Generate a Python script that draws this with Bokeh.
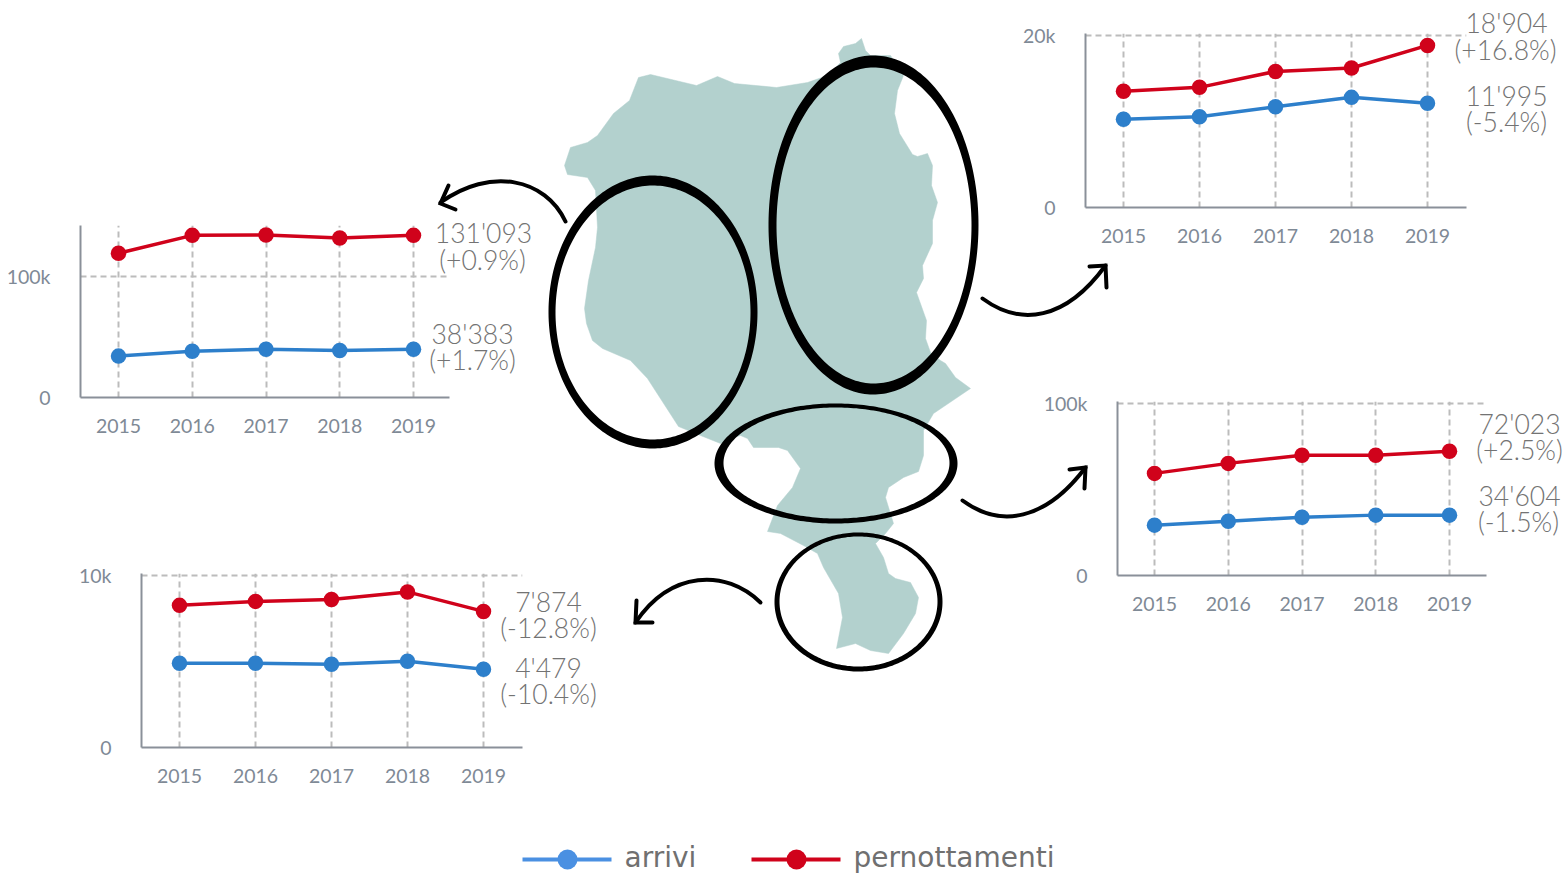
import numpy as np
from bokeh.plotting import figure
from bokeh.models import Range1d, FixedTicker
from bokeh.core.properties import value
from bokeh.embed import file_html
from bokeh.resources import INLINE

YEARS = [2015, 2016, 2017, 2018, 2019]

NW_ARRIVI = [34200, 38300, 39900, 38800, 39900]
NW_PERNOTT = [119200, 134000, 134300, 131800, 134000]
NE_ARRIVI = [10230, 10520, 11680, 12770, 12080]
NE_PERNOTT = [13470, 13930, 15780, 16180, 18790]
E_ARRIVI = [29200, 31500, 33800, 35000, 35000]
E_PERNOTT = [59200, 65000, 69700, 69700, 72000]
S_ARRIVI = [4880, 4880, 4830, 5000, 4540]
S_PERNOTT = [8240, 8470, 8580, 9020, 7890]

VALUE_LABELS = ["131'093", "(+0.9%)", "38'383", "(+1.7%)",
                "18'904", "(+16.8%)", "11'995", "(-5.4%)",
                "72'023", "(+2.5%)", "34'604", "(-1.5%)",
                "7'874", "(-12.8%)", "4'479", "(-10.4%)"]
VALUE_LABEL_X = [483, 482, 472, 472, 1506, 1505, 1506, 1506,
                 1519, 1519, 1519, 1518, 548, 548, 548, 548]
VALUE_LABEL_Y = [232, 259, 333, 359, 22, 49, 95, 121,
                 423, 449, 495, 521, 601, 627, 667, 693]

LEGEND_LABELS = ["arrivi", "pernottamenti"]

MAP_X = [638, 650, 696, 717, 734, 776, 807, 827, 840, 838, 843, 855, 861, 865, 870, 890, 903, 897, 894, 899,
         912, 917, 927, 932, 931, 937, 932, 932, 922, 923, 916, 926, 925, 930, 940, 945, 955, 970, 933, 923,
         923, 918, 903, 888, 885, 893, 885, 875, 883, 888, 895, 910, 918, 915, 903, 888, 870, 855, 836, 842,
         838, 823, 817, 803, 780, 767, 777, 792, 800, 787, 778, 753, 747, 740, 733, 720, 700, 678, 647, 630,
         602, 592, 586, 584, 588, 595, 597, 595, 587, 567, 564, 570, 587, 597, 613, 629]
MAP_Y = [77, 74, 85, 76, 83, 87, 82, 75, 62, 53, 46, 43, 38, 50, 55, 55, 75, 90, 113, 133,
         154, 156, 153, 165, 185, 202, 220, 243, 265, 278, 292, 320, 338, 352, 360, 363, 377, 388, 413, 430,
         455, 471, 477, 487, 497, 523, 533, 543, 557, 573, 578, 582, 597, 613, 633, 653, 650, 643, 648, 617,
         593, 567, 553, 545, 533, 531, 505, 487, 468, 450, 447, 447, 438, 435, 437, 443, 435, 426, 378, 360,
         348, 340, 323, 308, 280, 247, 227, 190, 177, 174, 165, 147, 142, 135, 113, 100]

RING_OUTER = [(548, 757, 175, 448), (768, 978, 55, 394), (714, 957, 403, 523), (774, 942, 532, 671)]
RING_INNER = [(555, 750, 185, 439), (776, 971, 67, 383), (723, 949, 407, 518), (779, 937, 536, 666)]

ARROW_CURVES = [(565, 221, 545, 178, 490, 166, 440, 202),
                (982, 298, 1020, 326, 1065, 320, 1105, 265),
                (962, 500, 1000, 528, 1045, 520, 1085, 467),
                (760, 602, 725, 568, 670, 570, 635, 622)]
ARROW_HEADS_X = [[448, 440, 455], [1089, 1105, 1106], [1069, 1085, 1084], [636, 635, 652]]
ARROW_HEADS_Y = [[185, 203, 209], [266, 265, 287], [469, 467, 488], [600, 622, 622]]

RED = "#d0021b"
BLUE = "#2d7fcb"
LEG_BLUE = "#4a90e2"
TICK_COLOR = "#7f8a96"
AXIS_COLOR = "#8a9099"
GRID_COLOR = "#bcbcbc"


def place(fig, left, top):
    fig.styles = {"position": "absolute", "left": f"{left}px", "top": f"{top}px"}


def ring_coords(box):
    x0, x1, y0, y1 = box
    t = np.linspace(0, 2 * np.pi, 240)
    cx, cy, rx, ry = (x0 + x1) / 2, (y0 + y1) / 2, (x1 - x0) / 2, (y1 - y0) / 2
    return list(cx + rx * np.cos(t)), list(cy + ry * np.sin(t))


bg = figure(width=1563, height=873, output_backend="svg", toolbar_location=None,
            x_range=Range1d(0, 1563), y_range=Range1d(873, 0),
            min_border=0, outline_line_color=None, border_fill_color=None,
            background_fill_color=None)
bg.axis.visible = False
bg.grid.visible = False
place(bg, 0, 0)

bg.patch(MAP_X, MAP_Y, fill_color="#b3d1ce", line_color="#b3d1ce", line_width=0.5)

xs, ys = [], []
for outer, inner in zip(RING_OUTER, RING_INNER):
    ox, oy = ring_coords(outer)
    ix, iy = ring_coords(inner)
    xs.append([[ox, ix]])
    ys.append([[oy, iy]])
bg.multi_polygons(xs, ys, fill_color="black", line_color=None)

for c in ARROW_CURVES:
    bg.bezier(x0=[c[0]], y0=[c[1]], cx0=[c[2]], cy0=[c[3]], cx1=[c[4]], cy1=[c[5]], x1=[c[6]], y1=[c[7]],
              line_color="black", line_width=4, line_cap="round")
bg.multi_line(ARROW_HEADS_X, ARROW_HEADS_Y, line_color="black", line_width=4,
              line_cap="round", line_join="miter")

bg.text(VALUE_LABEL_X, VALUE_LABEL_Y, text=VALUE_LABELS, text_font=value("Lato Light"),
        text_font_size="26.5px", text_color="#737373", text_align="center", text_baseline="middle")

# legend
bg.line([522, 611], [859, 859], line_color=LEG_BLUE, line_width=4)
bg.scatter([567], [859], size=20, fill_color=LEG_BLUE, line_color=None)
bg.line([751, 840], [859, 859], line_color=RED, line_width=4)
bg.scatter([796], [859], size=20, fill_color=RED, line_color=None)
bg.text([624, 853], [856.5, 856.5], text=LEGEND_LABELS, text_font=value("DejaVu Sans"),
        text_font_size="28px", text_color="#707070", text_align="left", text_baseline="middle")


def chart(fx0, fx1, fy0, base, val_y, val, x15, x19, y_ticks, y_over, arr, per):
    ml, mr, mt, mb = 100, 12, 12, 50
    per_year = (x19 - x15) / 4
    xr = Range1d(2015 - (x15 - fx0) / per_year, 2019 + (fx1 - x19) / per_year)
    yr = Range1d(0, val * (base - fy0) / (base - val_y))
    f = figure(width=ml + fx1 - fx0 + mr, height=mt + base - fy0 + mb, x_range=xr, y_range=yr,
               output_backend="svg", toolbar_location=None, min_border_left=ml, min_border_right=mr,
               min_border_top=mt, min_border_bottom=mb, outline_line_color=None,
               border_fill_color=None, background_fill_color=None)
    place(f, fx0 - ml, fy0 - mt)
    f.xaxis.ticker = FixedTicker(ticks=YEARS)
    f.yaxis.ticker = FixedTicker(ticks=y_ticks)
    f.yaxis.major_label_overrides = y_over
    for ax in (f.xaxis, f.yaxis):
        ax.major_tick_line_color = None
        ax.minor_tick_line_color = None
        ax.axis_line_color = AXIS_COLOR
        ax.axis_line_width = 2
        ax.major_label_text_font = "Lato"
        ax.major_label_text_font_size = "19.5px"
        ax.major_label_text_color = TICK_COLOR
    f.xaxis.major_label_standoff = 15
    f.yaxis.major_label_standoff = 24
    f.xgrid.ticker = FixedTicker(ticks=YEARS)
    f.ygrid.ticker = FixedTicker(ticks=y_ticks)
    for g in (f.xgrid, f.ygrid):
        g.grid_line_color = GRID_COLOR
        g.grid_line_width = 2
        g.grid_line_dash = "6 4"
    f.line(YEARS, arr, line_color=BLUE, line_width=3.5)
    f.scatter(YEARS, arr, size=15.5, fill_color=BLUE, line_color=None)
    f.line(YEARS, per, line_color=RED, line_width=3.5)
    f.scatter(YEARS, per, size=15.5, fill_color=RED, line_color=None)
    return f


c1 = chart(80, 449, 225, 397, 276, 100000, 118, 413, [0, 100000], {0: "0", 100000: "100k"}, NW_ARRIVI, NW_PERNOTT)
c2 = chart(1085, 1466, 33, 207, 34.5, 20000, 1123, 1427, [0, 20000], {0: "0", 20000: "20k"}, NE_ARRIVI, NE_PERNOTT)
c3 = chart(1117, 1486, 401, 575, 402.5, 100000, 1154, 1449, [0, 100000], {0: "0", 100000: "100k"}, E_ARRIVI, E_PERNOTT)
c4 = chart(141, 522, 573, 747, 574.5, 10000, 179, 483, [0, 10000], {0: "0", 10000: "10k"}, S_ARRIVI, S_PERNOTT)

open("out.html", "w").write(file_html([bg, c1, c2, c3, c4], INLINE))
